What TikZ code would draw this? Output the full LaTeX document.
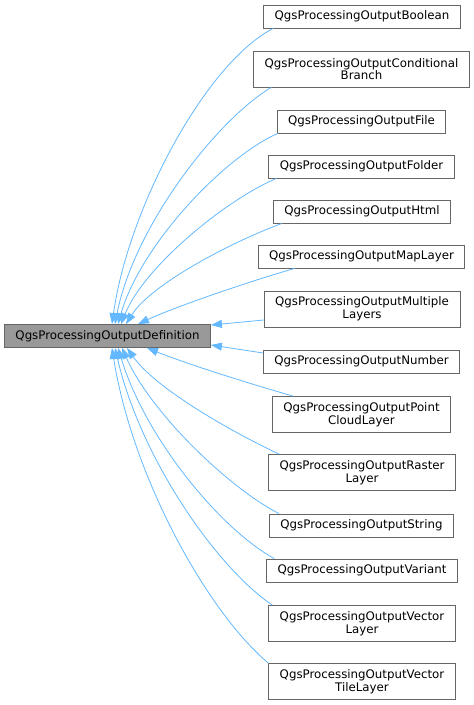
\documentclass[tikz,border=0pt]{standalone}
\usepackage{fontspec}
\setmainfont{DejaVu Sans}
\usetikzlibrary{arrows.meta}
\definecolor{edgeblue}{HTML}{63B8FF}
\definecolor{framegray}{HTML}{666666}
\definecolor{basegray}{HTML}{999999}
\tikzset{
	classbox/.style={draw=framegray, line width=0.8pt, fill=white, inner xsep=11pt, inner ysep=0pt,
		minimum height=23pt, align=center, font=\fontsize{11.8}{12.6}\selectfont}
}
\tikzset{
	tallbox/.style={classbox, minimum height=36pt}
}
\tikzset{
	inherit/.style={draw=edgeblue, line width=0.8pt, -{Triangle[length=11pt,width=8pt]}}
}

\begin{document}
\begin{tikzpicture}[x=1pt, y=1pt]
      \useasboundingbox (0,0) rectangle (474,-705);
      % base class
      \node[classbox, fill=basegray] (def) at (107.5,-336) {QgsProcessingOutputDefinition};
      % derived classes
      \node[classbox] (bool) at (362,-16.5) {QgsProcessingOutputBoolean};
      \node[tallbox] (cond) at (361.5,-69) {QgsProcessingOutputConditional\\Branch};
      \node[classbox] (file) at (361.5,-121.5) {QgsProcessingOutputFile};
      \node[classbox] (folder) at (361.5,-166.5) {QgsProcessingOutputFolder};
      \node[classbox] (html) at (362,-211.5) {QgsProcessingOutputHtml};
      \node[classbox] (map) at (361.5,-256.5) {QgsProcessingOutputMapLayer};
      \node[tallbox] (multi) at (362,-309) {QgsProcessingOutputMultiple\\Layers};
      \node[classbox] (number) at (361.5,-361.5) {QgsProcessingOutputNumber};
      \node[tallbox] (cloud) at (361.5,-414.5) {QgsProcessingOutputPoint\\CloudLayer};
      \node[tallbox] (raster) at (362,-472.5) {QgsProcessingOutputRaster\\Layer};
      \node[classbox] (string) at (361.5,-525.5) {QgsProcessingOutputString};
      \node[classbox] (variant) at (362,-570.5) {QgsProcessingOutputVariant};
      \node[tallbox] (vlayer) at (362,-623.5) {QgsProcessingOutputVector\\Layer};
      \node[tallbox] (vtile) at (362,-681.5) {QgsProcessingOutputVector\\TileLayer};
      % inheritance arrows, upper half
      \draw[inherit] ([xshift=10]bool.south west) .. controls +(207:75) and +(82:118) .. ([xshift=4.5]def.north);
      \draw[inherit] ([xshift=18]cond.south west) .. controls +(211:65) and +(79:98) .. ([xshift=7.5]def.north);
      \draw[inherit] ([xshift=1]file.south west) .. controls +(204:60) and +(74:82) .. ([xshift=10.5]def.north);
      \draw[inherit] ([xshift=8]folder.south west) .. controls +(203:55) and +(68:62) .. ([xshift=13.5]def.north);
      \draw[inherit] ([xshift=9]html.south west) .. controls +(200:50) and +(58:48) .. ([xshift=18.5]def.north);
      \draw[inherit] ([xshift=37]map.south west) .. controls +(196:50) and +(25:40) .. ([xshift=30.5]def.north);
      % straight ones
      \draw[inherit] ([yshift=-11]multi.west) -- ([yshift=11]def.east);
      \draw[inherit] ([yshift=8.5]number.west) -- ([yshift=-9]def.east);
      % inheritance arrows, lower half
      \draw[inherit] ([xshift=21]cloud.north west) .. controls +(164:50) and +(-22:40) .. ([xshift=39.5]def.south);
      \draw[inherit] ([xshift=11]raster.north west) .. controls +(155:50) and +(-55:50) .. ([xshift=19.5]def.south);
      \draw[inherit] ([xshift=10]string.north west) .. controls +(153:55) and +(-66:72) .. ([xshift=14.5]def.south);
      \draw[inherit] ([xshift=8]variant.north west) .. controls +(151:62) and +(-73:95) .. ([xshift=10.5]def.south);
      \draw[inherit] ([xshift=4]vlayer.north west) .. controls +(146:68) and +(-77:112) .. ([xshift=7.5]def.south);
      \draw[inherit] (vtile.north west) .. controls +(140:80) and +(-81:130) .. ([xshift=4.5]def.south);
    \end{tikzpicture}
\end{document}
